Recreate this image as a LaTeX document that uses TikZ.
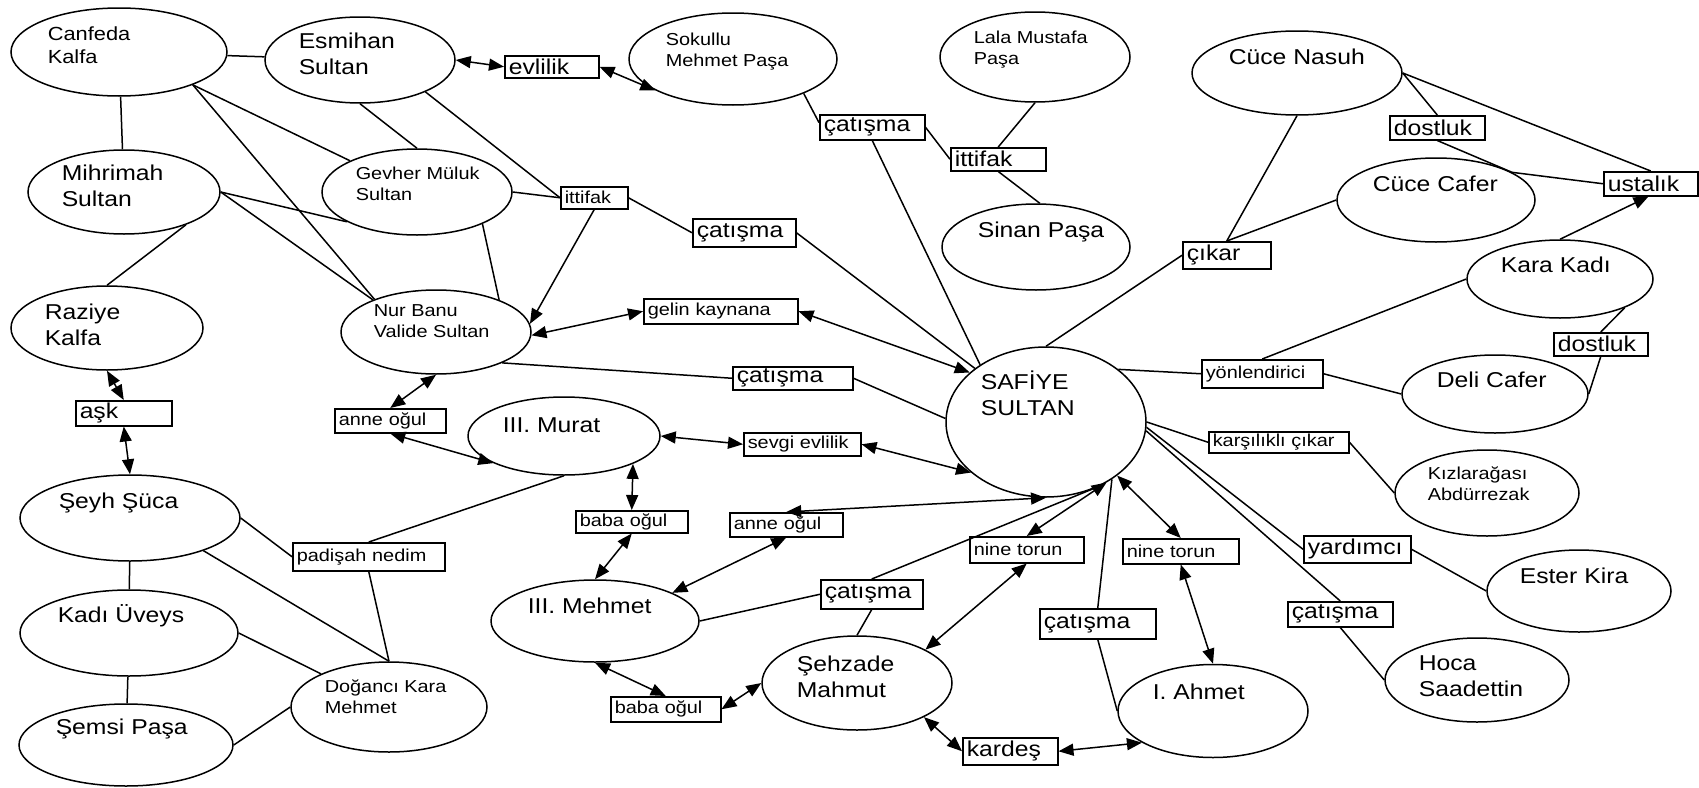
\documentclass[tikz,border=0pt]{standalone}
\usepackage{fontspec}
\setmainfont{Liberation Sans}[FakeStretch=1.15]
\usepackage{tikz}
\usetikzlibrary{arrows.meta, shapes.geometric}
\newcommand{\bigf}{\fontsize{21.5}{26.5}\selectfont}
\newcommand{\midf}{\fontsize{19}{23.5}\selectfont}
\newcommand{\smlf}{\fontsize{17.3}{21.5}\selectfont}

\begin{document}
\begin{tikzpicture}[x=1pt, y=-1pt, line width=1.5pt,
    pers/.style 2 args={draw, ellipse, inner sep=0pt, minimum width=#1, minimum height=#2},
    nm/.style={anchor=base west, inner sep=0pt, align=left, font=\bigf},
    rel/.style={draw, anchor=north west, inner xsep=4pt, inner ysep=0pt, align=left, font=\bigf},
    twoarr/.style={{Triangle[length=15pt,width=12pt]}-{Triangle[length=15pt,width=12pt]}},
    onearr/.style={-{Triangle[length=15pt,width=12pt]}}]
\useasboundingbox (0,0) rectangle (1699,787);

\node[pers={216}{88}] (Canfeda) at (119,52) {};
\node[pers={190}{86}] (Esmihan) at (360,60) {};
\node[pers={192}{84}] (Mihrimah) at (124,192) {};
\node[pers={190}{86}] (Gevher) at (417,192) {};
\node[pers={192}{84}] (Raziye) at (107,328) {};
\node[pers={190}{84}] (NurBanu) at (436,332) {};
\node[pers={208}{92}] (Sokullu) at (733,59) {};
\node[pers={190}{90}] (Lala) at (1035,57) {};
\node[pers={188}{86}] (Sinan) at (1036,247) {};
\node[pers={210}{84}] (Nasuh) at (1297,73) {};
\node[pers={198}{84}] (CCafer) at (1436,200) {};
\node[pers={186}{78}] (KaraKadi) at (1560,279) {};
\node[pers={186}{78}] (DeliCafer) at (1495,394) {};
\node[pers={184}{86}] (Kizlar) at (1487,493) {};
\node[pers={184}{82}] (Ester) at (1579,591) {};
\node[pers={184}{84}] (Hoca) at (1477,680) {};
\node[pers={190}{93}] (Ahmet) at (1213,711) {};
\node[pers={200}{150}] (Safiye) at (1046,422) {};
\node[pers={192}{78}] (Murat) at (564,436) {};
\node[pers={208}{82}] (Mehmet) at (595,621) {};
\node[pers={190}{94}] (Mahmut) at (857,683) {};
\node[pers={220}{86}] (Seyh) at (130,518) {};
\node[pers={218}{86}] (Kadi) at (129,633) {};
\node[pers={214}{82}] (Semsi) at (126,745) {};
\node[pers={196}{90}] (Dogan) at (389,707) {};

\node[nm, font=\midf] (CanfedaT) at (47,63.5) {Canfeda\\Kalfa};
\node[nm] (EsmihanT) at (298,74.5) {Esmihan\\Sultan};
\node[nm] (MihrimahT) at (61,206.5) {Mihrimah\\Sultan};
\node[nm, font=\smlf] (GevherT) at (355,200.5) {Gevher Müluk\\Sultan};
\node[nm] (RaziyeT) at (44,345.5) {Raziye\\Kalfa};
\node[nm, font=\smlf] (NurBanuT) at (373,337.5) {Nur Banu\\Valide Sultan};
\node[nm, font=\smlf] (SokulluT) at (665,66.5) {Sokullu\\Mehmet Paşa};
\node[nm, font=\smlf] (LalaT) at (973,64.5) {Lala Mustafa\\Paşa};
\node[nm] (SinanT) at (977,237) {Sinan Paşa};
\node[nm] (NasuhT) at (1228,64) {Cüce Nasuh};
\node[nm] (CCaferT) at (1372,191) {Cüce Cafer};
\node[nm] (KaraKadiT) at (1500,272) {Kara Kadı};
\node[nm] (DeliCaferT) at (1436,387) {Deli Cafer};
\node[nm, font=\smlf] (KizlarT) at (1427,500.5) {Kızlarağası\\Abdürrezak};
\node[nm] (EsterT) at (1519,583) {Ester Kira};
\node[nm] (HocaT) at (1418,696.5) {Hoca\\Saadettin};
\node[nm] (AhmetT) at (1152,699) {I. Ahmet};
\node[nm] (SafiyeT) at (980,415.5) {SAFİYE\\SULTAN};
\node[nm] (MuratT) at (502,432) {III. Murat};
\node[nm] (MehmetT) at (527,613) {III. Mehmet};
\node[nm] (MahmutT) at (796,697.5) {Şehzade\\Mahmut};
\node[nm] (SeyhT) at (58,508) {Şeyh Şüca};
\node[nm] (KadiT) at (57,622) {Kadı Üveys};
\node[nm] (SemsiT) at (55,734) {Şemsi Paşa};
\node[nm, font=\smlf] (DoganT) at (324,713.5) {Doğancı Kara\\Mehmet};

\node[rel, text width=86, minimum height=22] (Evlilik) at (504,55) {evlilik};
\node[rel, text width=97, minimum height=25] (CatA) at (819,114) {çatışma};
\node[rel, text width=87, minimum height=23] (IttifakB) at (950,147) {ittifak};
\node[rel, font=\smlf, text width=59, minimum height=22] (IttifakA) at (560,186) {ittifak};
\node[rel, text width=95, minimum height=28] (CatB) at (692,218) {çatışma};
\node[rel, font=\smlf, text width=146, minimum height=25] (Gelin) at (643,298) {gelin kaynana};
\node[rel, text width=112, minimum height=23] (CatC) at (732,366) {çatışma};
\node[rel, text width=88, minimum height=25] (Ask) at (75,400) {aşk};
\node[rel, font=\smlf, text width=103, minimum height=24] (AnneA) at (334,408) {anne oğul};
\node[rel, font=\smlf, text width=144, minimum height=28] (Padisah) at (292,542) {padişah nedim};
\node[rel, font=\smlf, text width=109, minimum height=23] (Sevgi) at (743,432) {sevgi evlilik};
\node[rel, font=\smlf, text width=104, minimum height=22] (BabaA) at (575,510) {baba oğul};
\node[rel, font=\smlf, text width=105, minimum height=24] (AnneB) at (729,512) {anne oğul};
\node[rel, font=\smlf, text width=106, minimum height=26] (NineA) at (969,536) {nine torun};
\node[rel, text width=94, minimum height=29] (CatD) at (820,579) {çatışma};
\node[rel, font=\smlf, text width=102, minimum height=25] (BabaB) at (610,696) {baba oğul};
\node[rel, text width=87, minimum height=27] (Kardes) at (962,737) {kardeş};
\node[rel, text width=108, minimum height=30] (CatE) at (1039,608) {çatışma};
\node[rel, font=\smlf, text width=108, minimum height=25] (NineB) at (1122,538) {nine torun};
\node[rel, text width=80, minimum height=27] (Cikar) at (1182,241) {çıkar};
\node[rel, text width=87, minimum height=24] (DostA) at (1389,115) {dostluk};
\node[rel, text width=86, minimum height=24] (Ustalik) at (1603,171) {ustalık};
\node[rel, text width=86, minimum height=23] (DostB) at (1553,332) {dostluk};
\node[rel, font=\smlf, text width=113, minimum height=28] (Yonlen) at (1201,359) {yönlendirici};
\node[rel, font=\smlf, text width=132, minimum height=21] (Karsi) at (1208,431) {karşılıklı çıkar};
\node[rel, text width=99, minimum height=27] (Yardimci) at (1303,535) {yardımcı};
\node[rel, text width=97, minimum height=25] (CatF) at (1287,601) {çatışma};

\path
  (Canfeda) edge (Esmihan)
            edge (Mihrimah)
  (Canfeda.-24) edge (Gevher.155)
                edge (NurBanu.152)
  (Esmihan.south) edge (Gevher.north)
  (Esmihan.-26) edge (IttifakA.west)
  (Mihrimah.east) edge (Gevher.203)
                  edge (NurBanu.153)
  (Mihrimah.-28) edge (Raziye.north)
  (Gevher.east) edge (IttifakA.west)
  (Gevher.-26) edge (NurBanu.27)
  (IttifakA.east) edge (CatB.west)
  (CatB.east) edge (Safiye.143)
  (Sokullu.-26) edge (CatA.175)
  (CatA.south) edge (Safiye.139)
  (CatA.east) edge (IttifakB.west)
  (Lala.south) edge (IttifakB.north)
  (IttifakB.south) edge (Sinan.85)
  (NurBanu.-25) edge (CatC.west)
  (CatC.east) edge (Safiye.178)
  (Seyh.east) edge (Padisah.west)
  (Seyh.-24) edge (Dogan.north)
  (Seyh) edge (Kadi)
  (Kadi.east) edge (Dogan.154)
  (Kadi) edge (Semsi)
  (Semsi.east) edge (Dogan.west)
  (Padisah.south) edge (Dogan.north)
  (Padisah.north) edge (Murat.south)
  (Mehmet.east) edge (CatD.west)
  (CatD.north) edge (Safiye.-50)
  (CatD.south) edge (Mahmut.north)
  (Ahmet.west) edge (CatE.south)
  (CatE.north) edge (Safiye.-41)
  (Safiye.north) edge (Cikar.west)
  (Cikar.north) edge (Nasuh.south)
                edge (CCafer.west)
  (Nasuh.east) edge (DostA.north)
               edge (Ustalik.north)
  (DostA.south) edge (CCafer.20)
  (CCafer.20) edge (Ustalik.west)
  (KaraKadi.west) edge (Yonlen.north)
  (Safiye.36) edge (Yonlen.west)
  (Yonlen.east) edge (DeliCafer.west)
  (KaraKadi.-24) edge (DostB.north)
  (DostB.south) edge (DeliCafer.east)
  (Safiye.east) edge (Karsi.west)
  (Karsi.east) edge (Kizlar.west)
  (Safiye.-3) edge (Yardimci.west)
  (Yardimci.east) edge (Ester.west)
  (Safiye.-5) edge (CatF.north)
  (CatF.south) edge (Hoca.west);

\path[twoarr]
  (Esmihan.east) edge (Evlilik.west)
  (Evlilik.east) edge (Sokullu.202)
  (NurBanu.-2) edge (Gelin.west)
  (Gelin.east) edge (Safiye.147)
  (NurBanu.south) edge (AnneA.north)
  (AnneA.south) edge (Murat.201)
  (Raziye.south) edge (Ask.north)
  (Ask.south) edge (Seyh.north)
  (Murat.east) edge (Sevgi.west)
  (Sevgi.east) edge (Safiye.214)
  (Murat.-22) edge (BabaA.north)
  (BabaA.south) edge (Mehmet.north)
  (Safiye.south) edge (AnneB.north)
  (AnneB.south) edge (Mehmet.20)
  (Mehmet.south) edge (BabaB.north)
  (BabaB.east) edge (Mahmut.west)
  (Safiye.-45) edge (NineA.north)
  (NineA.south) edge (Mahmut.26)
  (Mahmut.-27) edge (Kardes.west)
  (Kardes.east) edge (Ahmet.204)
  (Safiye.-37) edge (NineB.north)
  (NineB.south) edge (Ahmet.north);

\path[onearr]
  (IttifakA.south) edge (NurBanu.5)
  (KaraKadi.north) edge (Ustalik.-100);
\end{tikzpicture}
\end{document}
